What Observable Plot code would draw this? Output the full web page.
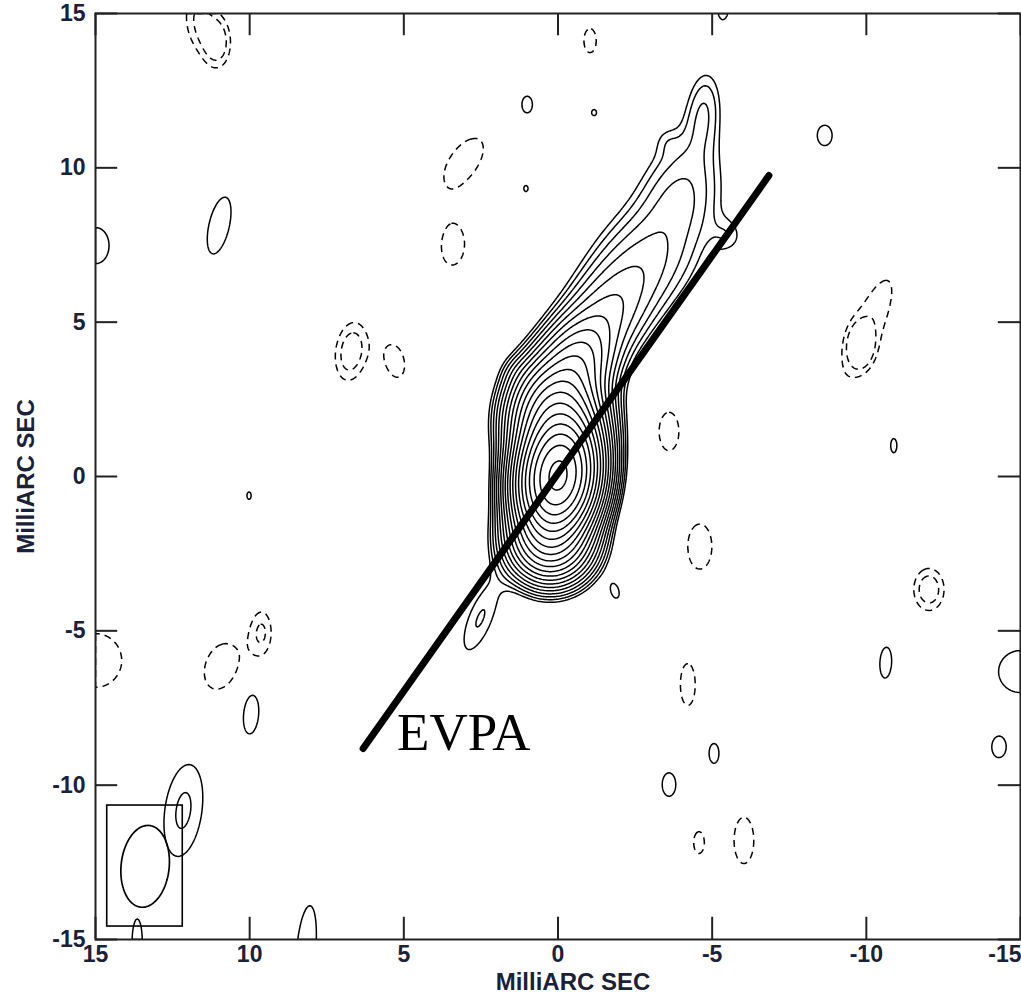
<!DOCTYPE html>
<html><head><meta charset="utf-8">
<script src="https://cdn.jsdelivr.net/npm/d3@7"></script>
<script src="https://cdn.jsdelivr.net/npm/@observablehq/plot@0.6"></script>
<style>
body{margin:0;background:#fff;}
#chart{position:relative;width:1021px;height:994px;overflow:hidden;background:#fff;}
</style></head><body><div id="chart"></div>
<script>
// ---- axes ----
const xTicks = [15, 10, 5, 0, -5, -10, -15];
const yTicks = [-15, -10, -5, 0, 5, 10, 15];
const axisTitle = "MilliARC SEC";

// contour levels (multiples of the lowest contour)
const posLevels = [1, 1.41, 2, 2.83, 4, 5.66, 8, 11.3, 16, 22.6, 32, 45.3, 64, 90.5, 128, 181, 256, 362, 512, 724];
const negLevels = [1, 1.41];

// ---- source model: core + jet components (mas, amplitude in lowest-contour units) ----
const srcX    = [0,    0.25, 0.05, -0.55, -1.5, -2.4, -3.3, -3.92, -4.2, -4.72, -5.54, -3.53, 1.33, 2.52];
const srcY    = [0,   -2.1,  1.9,   3.6,   5.1,  6.4,  7.5,  8.9,  10.1,  11.85,  7.8,  10.88, 3.37, -4.6];
const srcAmp  = [800,  50,   100,   25,    7,    3.5,  2.5,  2.0,   1.3,   1.9,   1.0,   0.5,  0.7,  1.45];
const srcSigA = [0.95, 0.7,  0.9,   0.9,   1.0,  1.0,  1.0,  0.9,   1.0,   1.0,   0.45,  0.35, 0.35, 1.25];
const srcSigB = [0.6,  0.7,  0.72,  0.65,  0.75, 0.9,  1.0,  0.85,  0.85,  0.42,  0.4,   0.3,  0.35, 0.42];
const srcTilt = [8,    15,   5,     25,    32,   32,   28,   20,    8,     5,     0,     0,    0,    22];

// ---- positive noise patches: centre, semi-axes of lowest contour, tilt, peak (lowest-contour units) ----
const posX  = [10.99, 14.98, 1.0,  -1.17, 1.04, -8.65, -10.89, 10.02, -1.85, 9.95, -10.63, -15.0, -14.3, -5.06, -3.6, 8.17, 13.65, -5.35, 12.15];
const posY  = [8.13,  7.48,  12.05, 11.79, 9.33, 11.05, 1.0,   -0.62, -3.72, -7.71, -6.03, -6.32, -8.78, -8.97, -9.98, -15.36, -15.1, 15.16, -10.82];
const posRa = [0.94,  0.58,  0.27,  0.1,   0.1,  0.33,  0.23,   0.12,  0.22, 0.62,  0.5,   0.68,  0.32,  0.32,  0.38, 1.46,  0.71,  0.35,  1.5];
const posRb = [0.33,  0.42,  0.17,  0.08,  0.07, 0.24,  0.1,    0.07,  0.12, 0.24,  0.19,  0.71,  0.22,  0.16,  0.22, 0.31,  0.16,  0.17,  0.6];
const posTilt=[13,    0,     0,     0,     0,    0,     0,      0,    -15,   5,     3,     0,     0,     0,     0,    5,     0,     0,     8];
const posAmp= [1.3,   1.3,   1.3,   1.3,   1.3,  1.3,   1.3,    1.3,   1.3,  1.3,   1.3,   1.3,   1.3,   1.3,   1.3,  1.3,   1.3,   1.3,   1.5];

// ---- negative noise patches (dashed) ----
const negX  = [3.05, 3.40, 6.71, 5.28, -1.04, -3.6, -4.6, -12.03, -4.21, -10.08, -9.82, -4.57, -6.03, 10.92, 9.59, 15.0, 11.05, 11.73];
const negY  = [10.2, 7.45, 4.05, 3.73, 14.12, 1.46, -2.27, -3.66, -6.74, 4.89,  4.24, -11.86, -11.79, -6.15, -5.02, -5.96, 14.06, 14.93];
const negRa = [0.87, 0.6,  0.94, 0.52, 0.39,  0.62, 0.73,  0.68,   0.68,  1.58,  0.5,   0.35,  0.75,   0.76,  0.52, 0.87, 0.78, 0.65];
const negRb = [0.45, 0.36, 0.5,  0.29, 0.2,   0.32, 0.39,  0.49,   0.24,  0.45,  0.3,   0.17,  0.32,   0.5,   0.24, 0.85, 0.42, 0.3];
const negTilt=[36,   5,    8,   -12,   0,     0,    0,     0,      0,     23,    0,     0,     0,      20,    0,    0,    0,    0];
const negAmp= [1.3,  1.3,  1.8,  1.3,  1.3,   1.3,  1.3,   1.8,    1.3,   1.3,   1.8,   1.3,   1.3,    1.3,   1.3,  1.3,  1.8,  1.3];

// ---- restoring beam and EVPA ----
const beamBoxX = [14.62, 12.17];
const beamBoxY = [-10.66, -14.58];
const beamCX = 13.39, beamCY = -12.63, beamRa = 1.33, beamRb = 0.78, beamTilt = 6;
const evpaX = [6.32, -6.84];
const evpaY = [-8.81, 9.75];
const evpaLabel = "EVPA";
const evpaLabelX = 5.22, evpaLabelY = -8.3;

// ---------- build grids ----------
const NX = 720, NY = 720, X0 = -15, Y0 = -15, SPAN = 30;
function toComps(xs, ys, amps, sa, sb, tilts) {
  return xs.map((x, i) => ({x, y: ys[i], amp: amps[i], sa: sa[i], sb: sb[i], tilt: tilts[i]}));
}
function patchComps(xs, ys, ra, rb, tilts, amps) {
  return xs.map((x, i) => {
    const amp = amps[i];
    const f = Math.sqrt(2 * Math.log(amp));
    return {x, y: ys[i], amp, sa: ra[i] / f, sb: rb[i] / f, tilt: tilts[i]};
  });
}
function field(comps) {
  const v = new Float64Array(NX * NY);
  const dx = SPAN / NX, dy = SPAN / NY;
  for (const c of comps) {
    const t = c.tilt * Math.PI / 180, st = Math.sin(t), ct = Math.cos(t);
    const R = Math.max(c.sa, c.sb) * Math.sqrt(2 * Math.log(c.amp / 0.005));
    const i0 = Math.max(0, Math.floor((c.x - R - X0) / dx)), i1 = Math.min(NX - 1, Math.ceil((c.x + R - X0) / dx));
    const j0 = Math.max(0, Math.floor((c.y - R - Y0) / dy)), j1 = Math.min(NY - 1, Math.ceil((c.y + R - Y0) / dy));
    const ia = 1 / (c.sa * c.sa), ib = 1 / (c.sb * c.sb);
    for (let j = j0; j <= j1; j++) {
      const Y = Y0 + (j + 0.5) * dy, dv = Y - c.y;
      for (let i = i0; i <= i1; i++) {
        const X = X0 + (i + 0.5) * dx, du = -(X - c.x);
        const a = du * st + dv * ct, b = du * ct - dv * st;
        v[i + j * NX] += c.amp * Math.exp(-0.5 * (a * a * ia + b * b * ib));
      }
    }
  }
  return Array.from(v);
}
const posGrid = field([
  ...toComps(srcX, srcY, srcAmp, srcSigA, srcSigB, srcTilt),
  ...patchComps(posX, posY, posRa, posRb, posTilt, posAmp)
]);
const negGrid = field(patchComps(negX, negY, negRa, negRb, negTilt, negAmp));

function ellipsePts(cx, cy, ra, rb, tiltDeg) {
  const t = tiltDeg * Math.PI / 180, st = Math.sin(t), ct = Math.cos(t), pts = [];
  for (let k = 0; k <= 120; k++) {
    const th = 2 * Math.PI * k / 120, a = ra * Math.cos(th), b = rb * Math.sin(th);
    const du = a * st + b * ct, dv = a * ct - b * st;
    pts.push([cx - du, cy + dv]);
  }
  return pts;
}

const TL = 0.72; // tick length in mas
const labelColor = "#1b2138";

const plot = Plot.plot({
  width: 1021, height: 994,
  marginLeft: 95, marginRight: 1, marginTop: 13, marginBottom: 55,
  x: {domain: [15, -15], label: null},
  y: {domain: [-15, 15], label: null},
  style: {fontFamily: "'Liberation Sans', Arial, sans-serif", fontSize: "23px", fontWeight: "bold", color: labelColor, background: "white"},
  marks: [
    Plot.contour(posGrid, {width: NX, height: NY, x1: -15, x2: 15, y1: -15, y2: 15, value: Plot.identity,
      thresholds: posLevels, stroke: "black", strokeWidth: 1.5, fill: "none", clip: true}),
    Plot.contour(negGrid, {width: NX, height: NY, x1: -15, x2: 15, y1: -15, y2: 15, value: Plot.identity,
      thresholds: negLevels, stroke: "black", strokeWidth: 1.5, strokeDasharray: "7,5", fill: "none", clip: true}),
    Plot.rect([0], {x1: beamBoxX[0], x2: beamBoxX[1], y1: beamBoxY[0], y2: beamBoxY[1], fill: "none", stroke: "black", strokeWidth: 1.6}),
    Plot.line(ellipsePts(beamCX, beamCY, beamRa, beamRb, beamTilt), {stroke: "black", strokeWidth: 1.7}),
    Plot.line(evpaX.map((x, i) => [x, evpaY[i]]), {stroke: "black", strokeWidth: 7}),
    Plot.text([evpaLabel], {x: evpaLabelX, y: evpaLabelY, text: d => d, textAnchor: "start", lineAnchor: "middle",
      fontFamily: "'Liberation Serif', 'Times New Roman', serif", fontSize: 53, fontWeight: "normal", fill: "black"}),
    Plot.frame({stroke: "#222", strokeWidth: 2}),
    Plot.ruleX(xTicks, {x: d => d, y1: -15, y2: -15 + TL, stroke: "#222", strokeWidth: 2}),
    Plot.ruleX(xTicks, {x: d => d, y1: 15 - TL, y2: 15, stroke: "#222", strokeWidth: 2}),
    Plot.ruleY(yTicks, {y: d => d, x1: 15, x2: 15 - TL, stroke: "#222", strokeWidth: 2}),
    Plot.ruleY(yTicks, {y: d => d, x1: -15 + TL, x2: -15, stroke: "#222", strokeWidth: 2}),
    Plot.axisX({ticks: xTicks.slice(0, -1), anchor: "bottom", tickSize: 0, tickPadding: 6, tickFormat: d => String(d), label: null}),
    Plot.axisX({ticks: xTicks.slice(-1), anchor: "bottom", tickSize: 0, tickPadding: 6, tickFormat: d => String(d), label: null, textAnchor: "end", dx: 1}),
    Plot.axisY({ticks: yTicks, anchor: "left", tickSize: 0, tickPadding: 10, tickFormat: d => String(d), label: null}),
    Plot.text([axisTitle], {frameAnchor: "bottom", dx: 15, dy: 43, lineAnchor: "middle", textAnchor: "middle", text: d => d, fontSize: 24}),
    Plot.text([axisTitle], {frameAnchor: "left", dx: -69, rotate: -90, lineAnchor: "middle", textAnchor: "middle", text: d => d, fontSize: 24})
  ]
});
document.getElementById("chart").appendChild(plot);
</script>
</body></html>
